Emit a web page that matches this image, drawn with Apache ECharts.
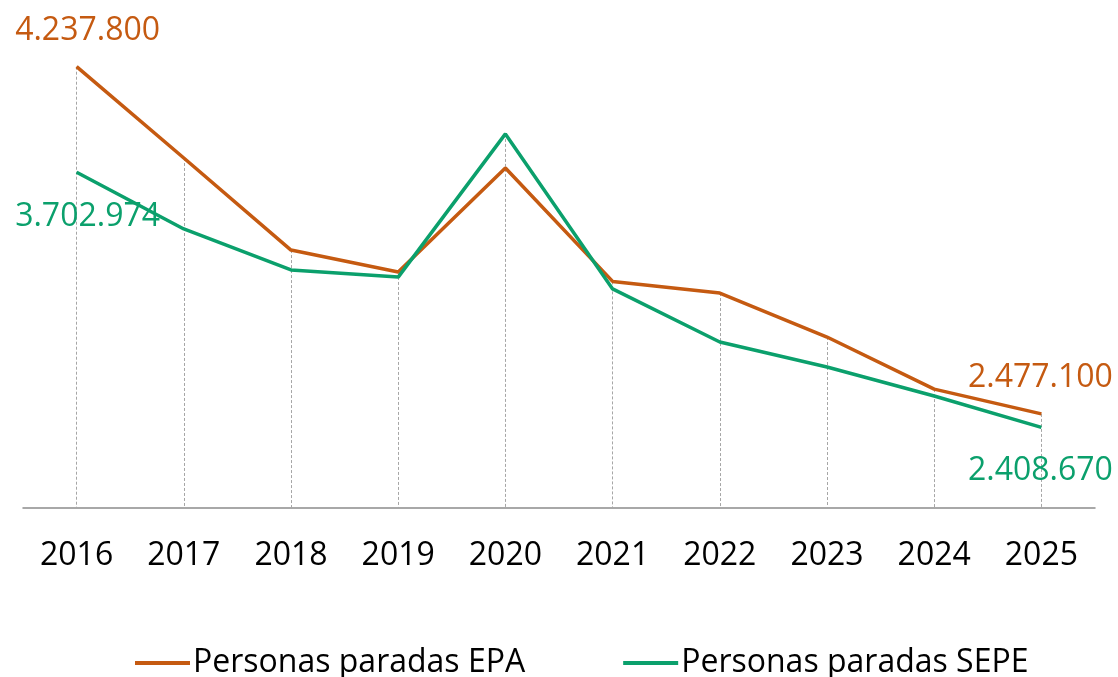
<!DOCTYPE html>
<html>
<head>
<meta charset="utf-8">
<script src="https://cdn.jsdelivr.net/npm/echarts@6/dist/echarts.min.js"></script>
<style>
	html, body { margin: 0; padding: 0; background: #fff; }
	#chart_div { width: 1118px; height: 677px; }
</style>
</head>
<body>
<div id="chart_div"></div>
<script>
var years = [ '2016', '2017', '2018', '2019', '2020', '2021', '2022', '2023', '2024', '2025' ];
var paradosEPA = [ 4237800, 3775000, 3308000, 3197000, 3724000, 3149000, 3090000, 2867000, 2603000, 2477100 ];
var paradosSEPE = [ 3702974, 3415000, 3207000, 3171000, 3897000, 3111000, 2842000, 2715000, 2568000, 2408670 ];
var seriesNames = [ 'Personas paradas EPA', 'Personas paradas SEPE' ];

var yMin = 2000000;
var yMax = 4500000;
var colorEPA = '#C55A11';
var colorSEPE = '#0BA06C';
var fontName = '"Open Sans", "Noto Sans", sans-serif';

function fmt(v) {
	return String(v).replace(/\B(?=(\d{3})+(?!\d))/g, '.');
}

// first and last points carry the value label
function withLabels(values, color, firstPos, firstOffset, lastPos, lastOffset) {
	return values.map(function(v, i) {
		var item = { value : v };
		if (i === 0 || i === values.length - 1) {
			item.label = {
				show : true,
				position : i === 0 ? firstPos : lastPos,
				offset : i === 0 ? firstOffset : lastOffset,
				formatter : function(p) { return fmt(p.value); },
				color : color,
				fontSize : 32,
				fontFamily : fontName
			};
		}
		return item;
	});
}

// dashed drop lines from the highest point of each year down to the axis
var dropLines = years.map(function(y, i) {
	return [ { coord : [ i, Math.max(paradosEPA[i], paradosSEPE[i]) ] }, { coord : [ i, yMin ] } ];
});

var mychart = echarts.init(document.getElementById('chart_div'));

var option = {
	animation : false,
	textStyle : { fontFamily : fontName },
	grid : {
		left : 23,
		right : 23,
		top : 15,
		bottom : 169
	},
	legend : {
		left : 135,
		top : 647,
		padding : 0,
		icon : 'rect',
		itemWidth : 55,
		itemHeight : 4,
		itemGap : 98,
		textStyle : {
			fontSize : 32,
			color : '#000',
			fontFamily : fontName,
			padding : [ 0, 0, 0, -2 ]
		},
		data : seriesNames
	},
	xAxis : {
		type : 'category',
		data : years,
		boundaryGap : true,
		axisLine : { lineStyle : { color : '#8C8C8C', width : 1.5 } },
		axisTick : { show : false },
		axisLabel : {
			fontSize : 32,
			color : '#000',
			margin : 32,
			fontFamily : fontName
		}
	},
	yAxis : {
		type : 'value',
		min : yMin,
		max : yMax,
		show : false,
		splitLine : { show : false }
	},
	series : [ {
		name : seriesNames[0],
		type : 'line',
		data : withLabels(paradosEPA, colorEPA, 'top', [ 11, -15 ], 'top', [ -1, -15 ]),
		symbol : 'circle',
		symbolSize : 0.1,
		showAllSymbol : true,
		lineStyle : { color : colorEPA, width : 3.5 },
		itemStyle : { color : colorEPA },
		z : 3,
		markLine : {
			silent : true,
			symbol : 'none',
			label : { show : false },
			lineStyle : { color : '#A6A6A6', width : 1, type : [ 3, 2 ] },
			z : 1,
			data : dropLines
		}
	}, {
		name : seriesNames[1],
		type : 'line',
		data : withLabels(paradosSEPE, colorSEPE, 'bottom', [ 11, 24 ], 'bottom', [ -1, 22 ]),
		symbol : 'circle',
		symbolSize : 0.1,
		showAllSymbol : true,
		lineStyle : { color : colorSEPE, width : 3.5 },
		itemStyle : { color : colorSEPE },
		z : 3
	} ]
};
mychart.setOption(option);
</script>
</body>
</html>
